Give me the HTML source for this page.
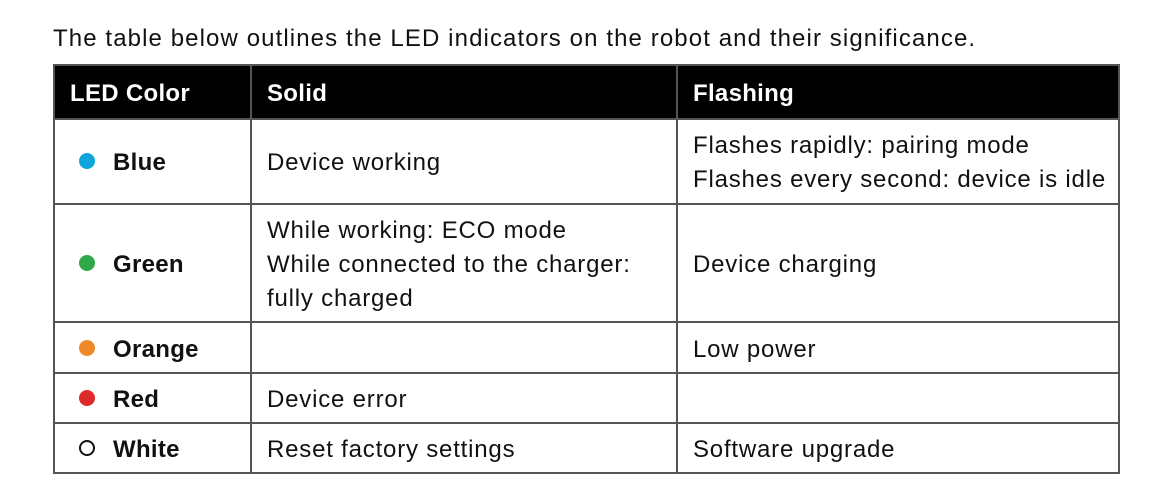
<!DOCTYPE html>
<html><head><style>
body{margin:0;width:1150px;height:494px;background:#fff;font-family:"Liberation Sans",sans-serif;position:relative;overflow:hidden;color:#111}
.t{position:absolute;font-size:24px;letter-spacing:0.8px;white-space:nowrap;line-height:34px}
.h{position:absolute;left:53px;top:64px;width:1066px;height:55px;background:#000}
.l{position:absolute;background:#555}
.b{font-weight:bold;letter-spacing:0.3px}
.d{position:absolute;width:16px;height:16px;border-radius:50%;left:79px}
</style></head><body>
<div class="t" style="left:53px;top:22px;letter-spacing:1.1px">The table below outlines the LED indicators on the robot and their significance.</div>
<div class="h"></div>
<div class="l" style="left:53px;top:64px;width:1066px;height:2px"></div>
<div class="l" style="left:53px;top:118px;width:1066px;height:2px"></div>
<div class="l" style="left:53px;top:203px;width:1066px;height:2px"></div>
<div class="l" style="left:53px;top:321px;width:1066px;height:2px"></div>
<div class="l" style="left:53px;top:372px;width:1066px;height:2px"></div>
<div class="l" style="left:53px;top:422px;width:1066px;height:2px"></div>
<div class="l" style="left:53px;top:472px;width:1066px;height:2px"></div>
<div class="l" style="left:53px;top:64px;width:2px;height:410px"></div>
<div class="l" style="left:250px;top:64px;width:2px;height:410px"></div>
<div class="l" style="left:676px;top:64px;width:2px;height:410px"></div>
<div class="l" style="left:1118px;top:64px;width:2px;height:410px"></div>
<div class="t b" style="left:70px;top:77px;color:#fff">LED Color</div>
<div class="t b" style="left:267px;top:77px;color:#fff">Solid</div>
<div class="t b" style="left:693px;top:77px;color:#fff">Flashing</div>
<div class="d" style="top:153px;background:#0ea5dd"></div>
<div class="d" style="top:255px;background:#2fa84a"></div>
<div class="d" style="top:340px;background:#ee8a2a"></div>
<div class="d" style="top:390px;background:#dd2a2a"></div>
<div class="d" style="top:440px;border:2px solid #111;width:12px;height:12px"></div>
<div class="t b" style="left:113px;top:146px">Blue</div>
<div class="t b" style="left:113px;top:248px">Green</div>
<div class="t b" style="left:113px;top:333px">Orange</div>
<div class="t b" style="left:113px;top:383px">Red</div>
<div class="t b" style="left:113px;top:433px">White</div>
<div class="t" style="left:267px;top:146px">Device working</div>
<div class="t" style="left:267px;top:214px">While working: ECO mode<br>While connected to the charger:<br>fully charged</div>
<div class="t" style="left:267px;top:383px">Device error</div>
<div class="t" style="left:267px;top:433px">Reset factory settings</div>
<div class="t" style="left:693px;top:129px">Flashes rapidly: pairing mode<br>Flashes every second: device is idle</div>
<div class="t" style="left:693px;top:248px">Device charging</div>
<div class="t" style="left:693px;top:333px">Low power</div>
<div class="t" style="left:693px;top:433px">Software upgrade</div>
</body></html>
